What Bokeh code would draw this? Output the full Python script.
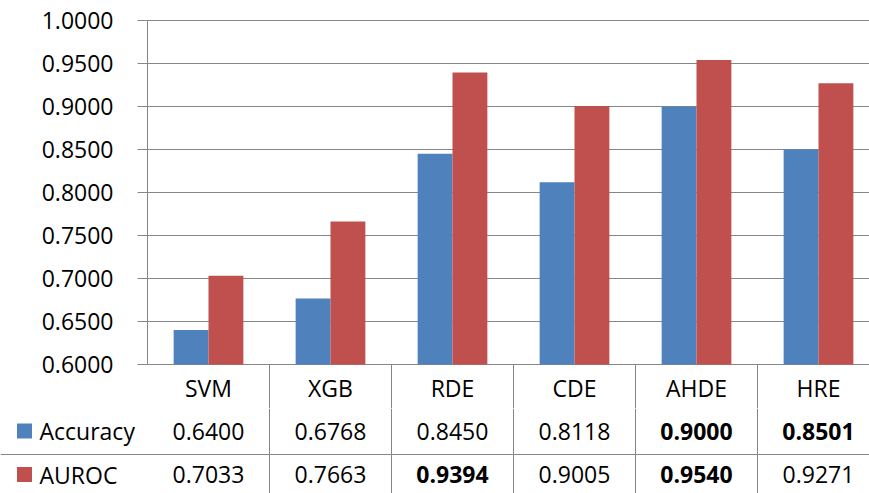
import numpy as np
from bokeh.plotting import figure
from bokeh.models import ColumnDataSource, Range1d, FixedTicker, PrintfTickFormatter, Span
from bokeh.layouts import column
from bokeh.core.properties import value
from bokeh.embed import file_html
from bokeh.resources import INLINE

# ---------------- data ----------------
categories = ["SVM", "XGB", "RDE", "CDE", "AHDE", "HRE"]
series_names = ["Accuracy", "AUROC"]
accuracy = [0.6400, 0.6768, 0.8450, 0.8118, 0.9000, 0.8501]
auroc = [0.7033, 0.7663, 0.9394, 0.9005, 0.9540, 0.9271]
y_ticks = [0.60, 0.65, 0.70, 0.75, 0.80, 0.85, 0.90, 0.95, 1.00]
bold_top_n = 2

# ---------------- style / layout ----------------
FONT = "Open Sans"
FS = "23px"
TXT = "#000000"
BLUE = "#4F81BD"
RED = "#C0504D"
GRID = "#868686"

W = 869          # figure width
TOP_H = 408      # chart part (incl. category row) height
BOT_H = 85       # value rows height
TOP_BORDER = 18  # space above the plot frame
COL_PX = 122     # pixels per category column
AXIS_PX = 147    # pixels left of the value axis
PX_PER_UNIT = 860.0
HEAD_DY = 23     # category row centre below the axis, px
ROW_PX = 43.5
ROW1_OFF = 22.5  # from top of table figure to centre of first value row
ROW_SEP = 1.54   # row-separator position (in row units)

n = len(categories)
x_end = (W - AXIS_PX) / COL_PX
centers = np.arange(n) + 0.5
bar_w = 1 / 3.5
pad_top = 2 / PX_PER_UNIT
frame_h = TOP_H - TOP_BORDER
y_start = y_ticks[-1] + pad_top - frame_h / PX_PER_UNIT

# ---------------- chart ----------------
top = figure(width=W, height=TOP_H, output_backend="svg", toolbar_location=None,
             x_range=Range1d(0, x_end),
             y_range=Range1d(y_start, y_ticks[-1] + pad_top),
             x_axis_location=None, min_border_left=AXIS_PX, min_border_right=0,
             min_border_top=TOP_BORDER, min_border_bottom=0)
top.frame_align = False
top.outline_line_color = None

src = ColumnDataSource(dict(
    xa=centers - bar_w / 2, xb=centers + bar_w / 2,
    acc=accuracy, auc=auroc))
top.vbar(x="xa", top="acc", bottom=y_ticks[0], width=bar_w, source=src,
         fill_color=BLUE, line_color=None)
top.vbar(x="xb", top="auc", bottom=y_ticks[0], width=bar_w, source=src,
         fill_color=RED, line_color=None)

# column separators of the data table (upper part, below the axis)
seps = np.arange(1, n)
top.segment(x0=seps, y0=[y_ticks[0]] * len(seps), x1=seps, y1=[y_start] * len(seps),
            line_color=GRID, line_width=1)

# category row of the data table
top.text(x=centers, y=[y_ticks[0]] * n, text=categories, y_offset=HEAD_DY,
         text_align="center", text_baseline="middle", text_font=value(FONT),
         text_font_size=FS, text_color=TXT)

ax = top.yaxis[0]
ax.ticker = FixedTicker(ticks=y_ticks)
ax.formatter = PrintfTickFormatter(format="%.4f")
ax.bounds = (y_ticks[0], y_ticks[-1])
ax.major_tick_out = 10
ax.major_tick_in = 0
ax.minor_tick_line_color = None
ax.axis_line_color = GRID
ax.major_tick_line_color = GRID
ax.major_label_standoff = 24
ax.major_label_text_font = FONT
ax.major_label_text_font_size = FS
ax.major_label_text_color = TXT
top.xgrid.visible = False
top.ygrid.ticker = FixedTicker(ticks=y_ticks)
top.ygrid.grid_line_color = GRID

# ---------------- data table (value rows) ----------------
y_top = 1 - ROW1_OFF / ROW_PX
y_bot = 1 + (BOT_H - ROW1_OFF) / ROW_PX
bot = figure(width=W, height=BOT_H, output_backend="svg", toolbar_location=None,
             x_range=Range1d(-AXIS_PX / COL_PX, x_end),
             y_range=Range1d(y_bot, y_top),
             x_axis_location=None, y_axis_location=None, min_border=0)
bot.frame_align = False
bot.outline_line_color = None
bot.xgrid.visible = False
bot.ygrid.visible = False

colors = [BLUE, RED]
for r, (name, vals) in enumerate(zip(series_names, [accuracy, auroc]), start=1):
    order = np.argsort(vals)[::-1]
    styles = ["normal"] * n
    for k in order[:bold_top_n]:
        styles[k] = "bold"
    s = ColumnDataSource(dict(x=centers, y=[r] * n,
                              t=["%.4f" % v for v in vals], st=styles))
    bot.text(x="x", y="y", text="t", source=s, text_align="center",
             text_baseline="middle", text_font=value(FONT), text_font_size=FS,
             text_font_style="st", text_color=TXT)
    bot.scatter(x=[(24 - AXIS_PX) / COL_PX], y=[r], marker="square", size=15,
                fill_color=colors[r - 1], line_color=None)
    bot.text(x=[(39 - AXIS_PX) / COL_PX], y=[r], text=[name], text_align="left",
             text_baseline="middle", text_font=value(FONT), text_font_size=FS,
             text_color=TXT)

bot.add_layout(Span(location=ROW_SEP, dimension="width", line_color=GRID, line_width=1))
for b in seps:
    bot.add_layout(Span(location=float(b), dimension="height", line_color=GRID, line_width=1))

layout = column(top, bot)
open("out.html", "w").write(file_html(layout, INLINE))
